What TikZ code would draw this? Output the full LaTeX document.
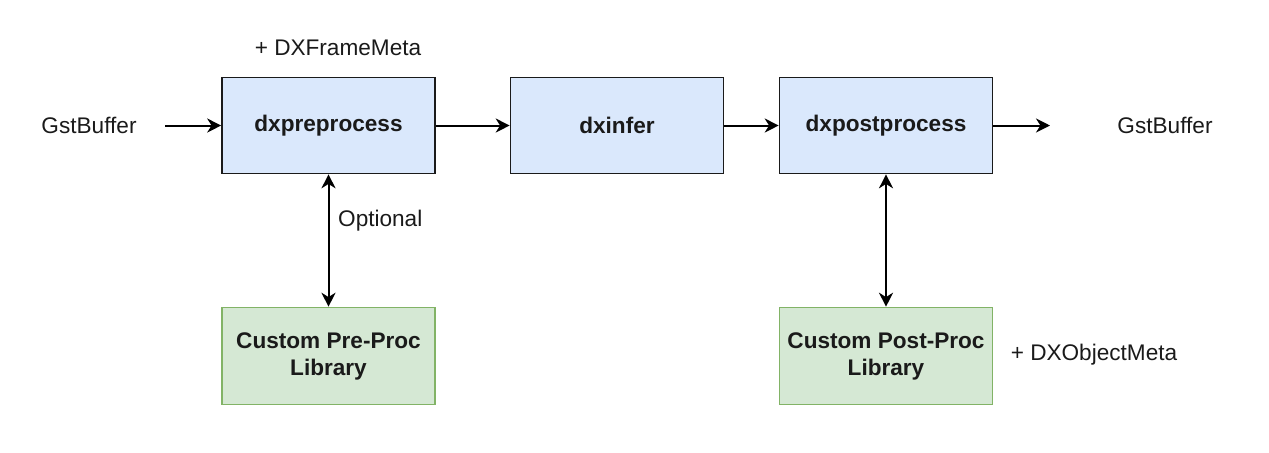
\documentclass[tikz,border=0pt]{standalone}
\usepackage{fontspec}
\setmainfont{Liberation Sans}
\usetikzlibrary{arrows.meta}
\definecolor{blockblue}{HTML}{DAE8FC}
\definecolor{libgreen}{HTML}{D5E8D4}
\definecolor{libline}{HTML}{82B366}
\definecolor{txtgray}{HTML}{1A1A1A}
\begin{document}
\begin{tikzpicture}[x=0.5pt,y=-0.5pt,
  font=\fontsize{11.3}{13.5}\selectfont,
  every node/.style={text=txtgray},
  stage/.style={draw=txtgray,fill=blockblue,line width=0.8pt,minimum width=106.5pt,minimum height=48pt,inner sep=0pt,font=\fontsize{11.3}{13.5}\selectfont\bfseries},
  lib/.style={draw=libline,fill=libgreen,line width=0.8pt,minimum width=106.5pt,minimum height=48.5pt,inner sep=0pt,align=center,font=\fontsize{11.3}{13.5}\selectfont\bfseries},
  flow/.style={line width=1pt,-{Stealth[length=7pt,width=7pt,inset=2.2pt]}},
  both/.style={line width=1pt,{Stealth[length=7pt,width=7pt,inset=2.2pt]}-{Stealth[length=7pt,width=7pt,inset=2.2pt]}}]
  \useasboundingbox (0,0) rectangle (1269,452);
  \node[stage] (pre) at (328.5,125.5) {dxpreprocess};
  \node[stage] (infer) at (617,125.5) {dxinfer};
  \node[stage] (post) at (886,125.5) {dxpostprocess};
  \node[lib] (prelib) at (328.5,356) {Custom Pre-Proc\\Library};
  \node[lib] (postlib) at (886,356) {Custom Post-Proc\\Library};
  \node (inbuf) at (89,125) {GstBuffer};
  \node (outbuf) at (1165,125) {GstBuffer};
  \node (framemeta) at (338,48) {+ DXFrameMeta};
  \node (objmeta) at (1094,355) {+ DXObjectMeta};
  \coordinate (instart) at (165,125.5);
  \coordinate (outend) at (1050,125.5);
  \draw[flow] (instart) -- (pre);
  \draw[flow] (pre) -- (infer);
  \draw[flow] (infer) -- (post);
  \draw[flow] (post) -- (outend);
  \draw[both] (pre) -- node[pos=0.35,right,xshift=1pt] (opt) {Optional} (prelib);
  \draw[both] (post) -- (postlib);
\end{tikzpicture}
\end{document}
